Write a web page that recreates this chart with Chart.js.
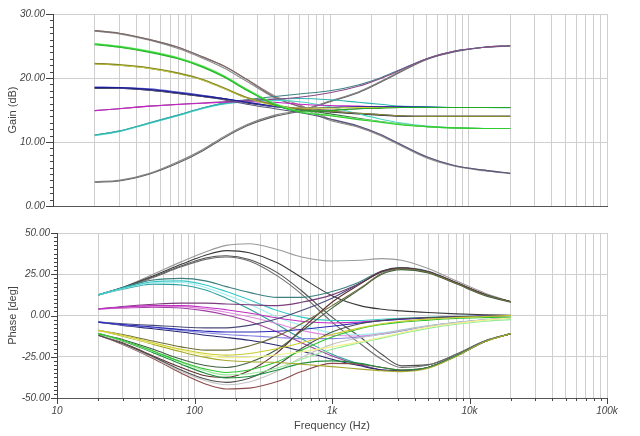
<!DOCTYPE html>
<html>
<head>
<meta charset="utf-8">
<title>Gain / Phase</title>
<script src="https://cdn.jsdelivr.net/npm/chart.js@4.4.1/dist/chart.umd.min.js"></script>
<style>
  html, body { margin: 0; padding: 0; background: #fff; }
  #wrap { position: relative; width: 640px; height: 436px; overflow: hidden; }
  canvas { position: absolute; left: 0; }
  #gainChart { top: 0; }
  #phaseChart { top: 220px; }
</style>
</head>
<body>
<div id="wrap">
  <canvas id="gainChart" width="640" height="220"></canvas>
  <canvas id="phaseChart" width="640" height="216"></canvas>
</div>
<script>
// sample frequencies (Hz) that every curve is read at
const freqs = [20, 30, 50, 80, 120, 170, 250, 400, 600, 1000, 1600, 2300, 3200, 5000, 8000, 13000, 20000];

// x axis decades + labels
const freqDecades = [10, 100, 1000, 10000, 100000];
const freqTickLabels = ["10", "100", "1k", "10k", "100k"];
const freqGridSteps = [1, 2, 3, 4, 5, 6, 7, 8, 9];

// ---- gain (dB) ----
const gBrownCutA  = [27.4, 27.0, 26.0, 24.8, 23.3, 21.9, 19.8, 17.2, 15.8, 13.6, 12.4, 11.1, 9.6, 7.6, 6.3, 5.6, 5.1];
const gBrownCutB  = [27.3, 26.9, 25.9, 24.6, 23.1, 21.6, 19.5, 16.9, 15.5, 13.4, 12.3, 11.0, 9.5, 7.5, 6.2, 5.5, 5.05];
const gBrownFlat  = [27.4, 27.0, 26.0, 24.8, 23.3, 21.9, 19.8, 17.0, 15.6, 15.0, 15.2, 15.3, 15.4, 15.4, 15.4, 15.4, 15.4];
const gGreenM2    = [25.3, 24.9, 24.1, 23.1, 21.8, 20.3, 18.2, 15.9, 14.7, 14.1, 13.5, 13.1, 12.7, 12.4, 12.2, 12.1, 12.1];
const gGreenFlat  = [25.2, 24.8, 24.0, 23.0, 21.7, 20.2, 18.1, 15.8, 14.8, 14.9, 15.2, 15.3, 15.4, 15.4, 15.4, 15.4, 15.4];
const gGreenLight = [25.4, 25.0, 24.2, 23.2, 21.9, 20.4, 18.3, 16.0, 14.8, 14.2, 13.6, 13.2, 12.8, 12.4, 12.2, 12.1, 12.1];
const gOliveM1    = [22.3, 22.1, 21.6, 20.8, 19.8, 18.5, 17.0, 15.8, 15.2, 14.8, 14.5, 14.3, 14.1, 14.0, 14.0, 14.0, 14.0];
const gOliveFlat  = [22.2, 22.0, 21.5, 20.7, 19.7, 18.4, 16.9, 15.7, 15.3, 15.3, 15.4, 15.4, 15.4, 15.4, 15.4, 15.4, 15.4];
const gOliveM2    = [22.2, 22.0, 21.5, 20.7, 19.7, 18.4, 16.9, 15.7, 15.1, 14.4, 13.7, 13.2, 12.8, 12.4, 12.2, 12.1, 12.1];
const gBlueFlat   = [18.5, 18.5, 18.2, 17.7, 17.2, 16.8, 16.2, 15.6, 15.3, 15.4, 15.5, 15.5, 15.5, 15.45, 15.4, 15.4, 15.4];
const gBlueM1     = [18.6, 18.5, 18.3, 17.8, 17.3, 16.8, 16.2, 15.5, 15.1, 14.8, 14.5, 14.3, 14.1, 14.0, 14.0, 14.0, 14.0];
const gBlueCut    = [18.5, 18.4, 18.1, 17.6, 17.1, 16.6, 15.9, 15.2, 14.6, 13.6, 12.5, 11.2, 9.7, 7.7, 6.3, 5.6, 5.1];
const gBlackM1    = [18.4, 18.4, 18.1, 17.6, 17.1, 16.7, 16.1, 15.5, 15.1, 14.7, 14.4, 14.2, 14.05, 14.0, 14.0, 14.0, 14.0];
const gMagFlat    = [14.9, 15.2, 15.6, 15.85, 16.05, 16.2, 16.3, 16.2, 15.9, 15.7, 15.6, 15.5, 15.45, 15.4, 15.4, 15.4, 15.4];
const gMagBoost   = [14.9, 15.2, 15.6, 15.9, 16.1, 16.3, 16.5, 16.7, 17.0, 17.7, 18.7, 19.9, 21.2, 23.0, 24.2, 24.8, 25.05];
const gCyanFlat   = [11.1, 11.7, 13.0, 14.2, 15.3, 16.0, 16.4, 16.7, 16.8, 16.6, 16.2, 15.9, 15.6, 15.5, 15.4, 15.4, 15.35];
const gCyanM2     = [11.0, 11.6, 12.9, 14.1, 15.2, 15.9, 16.3, 16.5, 16.3, 15.5, 14.4, 13.6, 13.0, 12.5, 12.2, 12.1, 12.1];
const gCyanBoost  = [11.1, 11.7, 13.0, 14.2, 15.3, 16.1, 16.6, 17.1, 17.5, 18.0, 18.9, 20.0, 21.3, 23.0, 24.2, 24.8, 25.05];
const gGrayBoostA = [3.8, 4.0, 5.1, 6.9, 8.8, 10.8, 12.7, 14.2, 14.9, 16.4, 17.8, 19.4, 21.0, 23.0, 24.2, 24.8, 25.05];
const gGrayBoostB = [3.7, 3.9, 5.0, 6.7, 8.6, 10.6, 12.5, 14.0, 14.8, 16.3, 17.7, 19.3, 20.9, 22.9, 24.1, 24.8, 25.0];

// ---- phase (deg) ----
const phGrayBoost = [12.5, 17, 25, 32.5, 38.5, 42.5, 43.5, 40, 35.5, 33, 33.5, 34.5, 33.5, 28.5, 21, 13.5, 8.3];
const phGrayFlat  = [12.5, 17, 24, 31, 36.5, 39.3, 38, 32, 23, 12, 6, 3.8, 2.8, 1.8, 1, 0.5, 0.1];
const phGrayCutA  = [12.5, 16.5, 23, 29.5, 34, 35.5, 33, 24, 13, -4, -17, -26.5, -31.5, -30, -23.5, -15.3, -11];
const phGrayCutB  = [12.5, 16.8, 23.5, 30, 34.8, 36.2, 34, 26, 15, -1, -13, -23.5, -30.5, -29.8, -23.5, -15.3, -11];

const phCyanBoost = [12.5, 17, 21.5, 22.5, 21, 17.5, 14, 11, 11, 14.5, 20.5, 27, 29, 26.8, 20, 12.8, 8.3];
const phCyanFlat  = [12.5, 16.5, 20.5, 21, 18.5, 14.5, 9.5, 3, -1, -3, -3, -2.3, -1.7, -1.1, -0.6, -0.3, 0];
const phCyanMild  = [12.5, 16.3, 19.8, 20, 17, 12.5, 7, -1, -6, -10.5, -11.5, -10.5, -8.7, -6.1, -4.1, -2.5, -1.5];
const phCyanCut   = [12.5, 16, 19, 18.5, 15.5, 10.5, 4, -5.5, -14, -23.5, -29.5, -33, -33.5, -31.5, -24.3, -15.6, -11];

const phMagBoost  = [4, 5.5, 6.8, 7.5, 7.5, 7, 6.5, 6, 8, 12.5, 19.5, 26.5, 28.8, 26.5, 19.8, 12.6, 8.3];
const phMagFlat   = [4, 5, 6, 6, 5, 3.5, 1.5, -1.5, -3.5, -4.5, -4, -3, -2.2, -1.4, -0.8, -0.4, 0];
const phMagMild   = [4, 4.8, 5.6, 5.4, 4, 2, -0.8, -5, -9, -12, -12.5, -11, -9, -6.4, -4.3, -2.6, -1.5];
const phMagCut    = [4, 4.5, 5, 4.5, 2.8, 0.3, -3.5, -10, -16.5, -24.5, -30, -33, -33.5, -31.5, -24.5, -15.7, -11];

const phBlueBoost = [-4, -5, -6, -7, -7.5, -7.5, -6, -2, 3, 10.5, 19.5, 26.3, 28.7, 26.5, 19.8, 12.6, 8.3];
const phBlueFlat  = [-4, -5.5, -7, -8.5, -9.5, -10, -10, -9.5, -8.5, -6.5, -4.5, -3.2, -2.3, -1.5, -0.8, -0.4, 0];
const phBlueMild  = [-4, -5.7, -7.4, -9, -10.5, -11.5, -12.3, -13.3, -14, -14, -13, -11.4, -9.3, -6.5, -4.3, -2.6, -1.5];
const phBlueCut   = [-4, -6, -8, -10, -12, -13.3, -15, -18, -21.5, -26.5, -30.5, -33, -33.5, -31.5, -24.5, -15.7, -11];

const phYelBoost  = [-9, -11.5, -15.5, -19, -21, -21, -18.5, -12.5, -5, 6, 16.5, 25.5, 28.3, 26.2, 19.5, 12.4, 8.3];
const phYelFlat   = [-9, -12, -16.5, -20.5, -23, -24, -23, -20, -16.5, -11.5, -7.5, -5, -3.5, -2.2, -1.2, -0.6, 0];
const phYelMild   = [-9, -12.2, -17, -21, -24, -25.5, -25.3, -23.8, -22, -19, -16, -13.2, -10.5, -7.2, -4.7, -2.8, -1.5];
const phYelCut    = [-9, -12.6, -17.5, -22, -25.4, -27.3, -28, -28.5, -29.5, -31, -32.5, -33.5, -34, -32, -24.8, -15.8, -11];

const phGreenBoost = [-11, -14.5, -20.5, -26.5, -30.3, -31.5, -28.5, -20.5, -9.5, 4.5, 16, 25, 27.8, 25.8, 19.2, 12, 8];
const phGreenFlat  = [-11, -15, -21.5, -28, -32.5, -34.5, -33, -28, -21, -13, -8, -5.5, -4, -2.8, -1.8, -1.3, -1];
const phGreenMild  = [-11, -15.2, -22, -28.5, -33.5, -36, -35.3, -31.8, -26.5, -20.5, -16.5, -13.7, -11, -7.8, -5.3, -3.5, -2.5];
const phGreenCut   = [-11, -15.5, -22.5, -29.5, -35, -37.8, -37, -33, -29, -27.5, -29, -31.5, -33, -31.5, -24.5, -15.7, -11];

const phBrownBoost = [-12, -16.5, -24.5, -31.5, -36.5, -37.5, -33.5, -22.5, -8.5, 8, 19, 26.8, 28.8, 26.5, 19.8, 12.6, 8.3];
const phBrownFlat  = [-12, -17, -25, -33, -38.5, -40.5, -38, -30, -20, -10, -5, -3, -2, -1.3, -0.8, -0.4, 0];
const phBrownMild  = [-12, -17.2, -25.5, -34, -39.5, -42, -40.3, -33.8, -25.5, -17.5, -13.5, -11.2, -9, -6.3, -4.3, -2.6, -1.5];
const phBrownCut   = [-12, -17.5, -26, -35, -41.5, -44.5, -44, -40, -34, -29, -29.5, -31.5, -33, -31.5, -24.5, -15.7, -11];

// series + line colour
const gainSeries = [
  [gGreenM2, "#2ecc2e"], [gGreenFlat, "#22a822"], [gGreenLight, "#77ee77"],
  [gOliveM1, "#8a8a28"], [gOliveFlat, "#d4d43c"], [gOliveM2, "#3f6f3f"],
  [gBlueFlat, "#1c1c94"], [gBlueM1, "#5555c4"], [gBlueCut, "#55557f"],
  [gMagFlat, "#c424c4"], [gMagBoost, "#8a4a8a"],
  [gCyanFlat, "#2fb4b4"], [gCyanM2, "#4fd8c4"], [gCyanBoost, "#3e8282"],
  [gBlackM1, "#222222"],
  [gBrownFlat, "#7a6a6a"], [gBrownCutA, "#a08888"], [gBrownCutB, "#8a8a8a"],
  [gGrayBoostA, "#7e7e7e"], [gGrayBoostB, "#5e5e5e"],
];

const phaseSeries = [
  [phYelFlat, "#cccc2c"], [phYelMild, "#f3f38a"], [phYelCut, "#a8a830"], [phYelBoost, "#6f6f3f"],
  [phGreenFlat, "#2ec42e"], [phGreenMild, "#96ec96"], [phGreenCut, "#1f8f3f"], [phGreenBoost, "#3f5f3f"],
  [phBrownFlat, "#4e4e4e"], [phBrownMild, "#c4c4c4"], [phBrownCut, "#8c4a4a"], [phBrownBoost, "#5e2e2e"],
  [phBlueFlat, "#2a2ab8"], [phBlueMild, "#8585e0"], [phBlueCut, "#26266e"], [phBlueBoost, "#4a4a7a"],
  [phMagFlat, "#c22cc2"], [phMagMild, "#e08ae0"], [phMagCut, "#a0409f"], [phMagBoost, "#7a3c7a"],
  [phCyanFlat, "#35c8c8"], [phCyanMild, "#9ff0ee"], [phCyanCut, "#2f9d9d"], [phCyanBoost, "#3b7f7f"],
  [phGrayCutA, "#6e6e6e"], [phGrayCutB, "#505050"], [phGrayFlat, "#3a3a3a"], [phGrayBoost, "#9a9a9a"],
];

const FONT = 'Arial, "Liberation Sans", sans-serif';
const GRID = "#cfcfcf";

let freqGrid = [];
freqDecades.slice(0, -1).forEach((d) => freqGridSteps.forEach((s) => freqGrid.push(d * s)));
freqGrid.push(freqDecades[freqDecades.length - 1]);

function toDatasets(series) {
  return series.map(([vals, color]) => ({
    data: freqs.map((f, i) => ({ x: f, y: vals[i] })),
    borderColor: color,
    borderWidth: 1.1,
    pointRadius: 0,
    fill: false,
    cubicInterpolationMode: "monotone",
  }));
}

// small tick marks on the axes (minor + major)
const tickMarks = {
  id: "tickMarks",
  afterDraw(chart, args, opts) {
    const ctx = chart.ctx;
    const a = chart.chartArea;
    const y = chart.scales.y;
    const x = chart.scales.x;
    ctx.save();
    ctx.strokeStyle = "#444";
    ctx.lineWidth = 1;
    ctx.beginPath();
    for (let v = y.min; v <= y.max + 1e-9; v += opts.yMinor) {
      const py = Math.round(y.getPixelForValue(v)) + 0.5;
      const major = Math.abs(v % opts.yMajor) < 1e-9;
      const len = major ? opts.yMajorLen : 3;
      ctx.moveTo(a.left - len, py);
      ctx.lineTo(a.left, py);
    }
    if (opts.xTicks) {
      x.ticks.forEach((t) => {
        const px = Math.round(x.getPixelForValue(t.value)) + 0.5;
        const len = freqDecades.includes(t.value) ? 6 : 3;
        ctx.moveTo(px, a.bottom);
        ctx.lineTo(px, a.bottom + len);
      });
    }
    ctx.stroke();
    ctx.restore();
  },
};

function xScale(showLabels, height) {
  return {
    type: "logarithmic",
    min: 10,
    max: 100000,
    afterBuildTicks: (s) => { s.ticks = freqGrid.map((v) => ({ value: v })); },
    afterFit: (s) => { s.height = height; },
    grid: { color: GRID, drawTicks: false },
    border: { color: "#555" },
    ticks: {
      display: showLabels,
      autoSkip: false,
      maxRotation: 0,
      padding: 7,
      color: "#444",
      font: { family: FONT, size: 10, style: "italic" },
      callback: (v) => {
        const i = freqDecades.indexOf(v);
        return i >= 0 ? freqTickLabels[i] : "";
      },
    },
    title: {
      display: showLabels,
      text: "Frequency (Hz)",
      color: "#444",
      font: { family: FONT, size: 11 },
      padding: { top: 0, bottom: 3 },
    },
  };
}

function yScale(min, max, step, width, pad, label) {
  return {
    min: min,
    max: max,
    afterFit: (s) => { s.width = width; },
    grid: { color: GRID, drawTicks: false },
    border: { color: "#444" },
    ticks: {
      stepSize: step,
      padding: pad,
      color: "#444",
      font: { family: FONT, size: 10, style: "italic" },
      callback: (v) => v.toFixed(2),
    },
    title: {
      display: true,
      text: label,
      color: "#444",
      font: { family: FONT, size: 11 },
      padding: { top: 6, bottom: 0 },
    },
  };
}

new Chart(document.getElementById("gainChart"), {
  type: "line",
  data: { datasets: toDatasets(gainSeries) },
  options: {
    responsive: false,
    animation: false,
    layout: { padding: { top: 10, right: 33, left: 0, bottom: 0 } },
    plugins: {
      legend: { display: false },
      tooltip: { enabled: false },
      tickMarks: { yMinor: 1, yMajor: 10, yMajorLen: 7, xTicks: false },
    },
    scales: {
      x: xScale(false, 11),
      y: yScale(0, 30, 10, 53, 8, "Gain (dB)"),
    },
  },
  plugins: [tickMarks],
});

new Chart(document.getElementById("phaseChart"), {
  type: "line",
  data: { datasets: toDatasets(phaseSeries) },
  options: {
    responsive: false,
    animation: false,
    layout: { padding: { top: 10, right: 33, left: 0, bottom: 0 } },
    plugins: {
      legend: { display: false },
      tooltip: { enabled: false },
      tickMarks: { yMinor: 2.5, yMajor: 25, yMajorLen: 6, xTicks: true },
    },
    scales: {
      x: xScale(true, 38),
      y: yScale(-50, 50, 25, 57, 7, "Phase [deg]"),
    },
  },
  plugins: [tickMarks],
});
</script>
</body>
</html>
